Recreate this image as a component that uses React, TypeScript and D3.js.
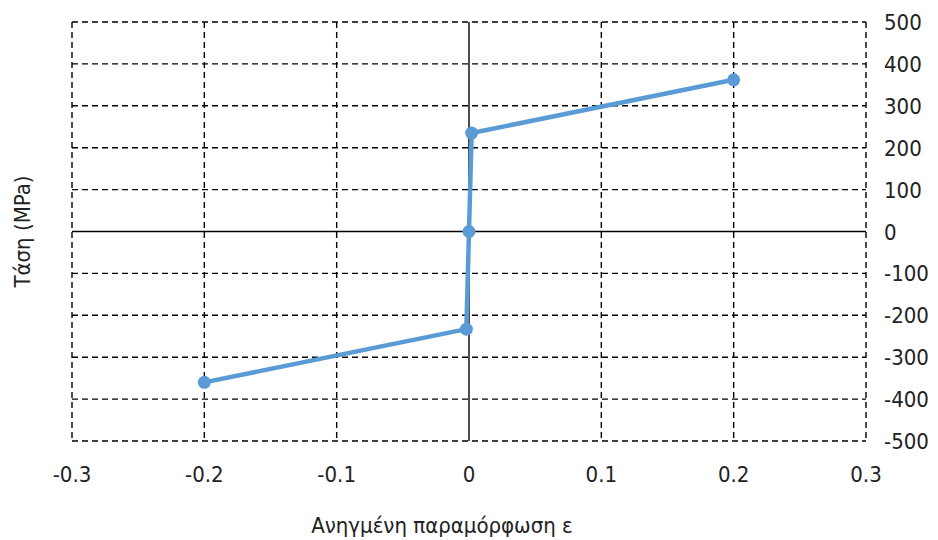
import React, { useEffect, useRef } from 'react';
import * as d3 from 'd3';

// Strain (ε) vs stress (MPa)
const strain = [-0.2, -0.002, 0, 0.002, 0.2];
const stress = [-360, -233, 0, 235, 362];
const xTicks = [-0.3, -0.2, -0.1, 0, 0.1, 0.2, 0.3];
const yTicks = [-500, -400, -300, -200, -100, 0, 100, 200, 300, 400, 500];

const LINE_COLOR = '#5b9bd5';
const FONT = '"DejaVu Sans Condensed", "DejaVu Sans", Verdana, sans-serif';

export default function App() {
  const svgRef = useRef<SVGSVGElement>(null);

  useEffect(() => {
    const width = 938;
    const height = 540;
    const margin = { top: 22, right: 72, bottom: 99, left: 72 };

    const svg = d3.select(svgRef.current);
    svg.selectAll('*').remove();
    svg.attr('width', width).attr('height', height);

    const x = d3.scaleLinear().domain([-0.3, 0.3]).range([margin.left, width - margin.right]);
    const y = d3.scaleLinear().domain([-500, 500]).range([height - margin.bottom, margin.top]);

    // dashed grid (including the outer frame)
    xTicks.filter(t => t !== 0).forEach(t => {
      svg.append('line').attr('x1', x(t)).attr('x2', x(t))
        .attr('y1', y(500)).attr('y2', y(-500))
        .attr('stroke', '#000').attr('stroke-width', 1.4).attr('stroke-dasharray', '6,4');
    });
    yTicks.filter(t => t !== 0).forEach(t => {
      svg.append('line').attr('x1', x(-0.3)).attr('x2', x(0.3))
        .attr('y1', y(t)).attr('y2', y(t))
        .attr('stroke', '#000').attr('stroke-width', 1.4).attr('stroke-dasharray', '6,4');
    });

    // solid zero axes
    svg.append('line').attr('x1', x(0)).attr('x2', x(0)).attr('y1', y(500)).attr('y2', y(-500))
      .attr('stroke', '#000').attr('stroke-width', 1.4);
    svg.append('line').attr('x1', x(-0.3)).attr('x2', x(0.3)).attr('y1', y(0)).attr('y2', y(0))
      .attr('stroke', '#000').attr('stroke-width', 1.4);

    // x tick labels
    xTicks.forEach(t => {
      svg.append('text').attr('x', x(t)).attr('y', y(-500) + 41)
        .attr('text-anchor', 'middle').style('font-family', FONT).style('font-size', '22px')
        .style('fill', '#222').text(String(t));
    });
    // y tick labels (right side)
    yTicks.forEach(t => {
      svg.append('text').attr('x', x(0.3) + 18).attr('y', y(t) + 8)
        .attr('text-anchor', 'start').style('font-family', FONT).style('font-size', '22px')
        .style('fill', '#222').text(String(t));
    });

    // series
    const pts = strain.map((s, i) => [s, stress[i]] as [number, number]);
    const line = d3.line<[number, number]>().x(d => x(d[0])).y(d => y(d[1]));
    svg.append('path').datum(pts).attr('d', line)
      .attr('fill', 'none').attr('stroke', LINE_COLOR).attr('stroke-width', 4.5)
      .attr('stroke-linejoin', 'round');
    svg.selectAll('circle.pt').data(pts).enter().append('circle')
      .attr('class', 'pt').attr('cx', d => x(d[0])).attr('cy', d => y(d[1]))
      .attr('r', 6.5).attr('fill', LINE_COLOR);

    // axis titles
    svg.append('text').attr('x', 442).attr('y', 533).attr('text-anchor', 'middle')
      .style('font-family', FONT).style('font-size', '22px').style('fill', '#222')
      .text('Ανηγμένη παραμόρφωση ε');
    svg.append('text').attr('transform', `translate(30,${y(0)}) rotate(-90)`)
      .attr('text-anchor', 'middle').style('font-family', FONT).style('font-size', '22px')
      .style('fill', '#222').text('Τάση (MPa)');
  }, []);

  return (
    <div style={{ position: 'absolute', left: 0, top: 0, width: 938, height: 540, background: 'white' }}>
      <svg ref={svgRef} style={{ display: 'block' }}></svg>
    </div>
  );
}
